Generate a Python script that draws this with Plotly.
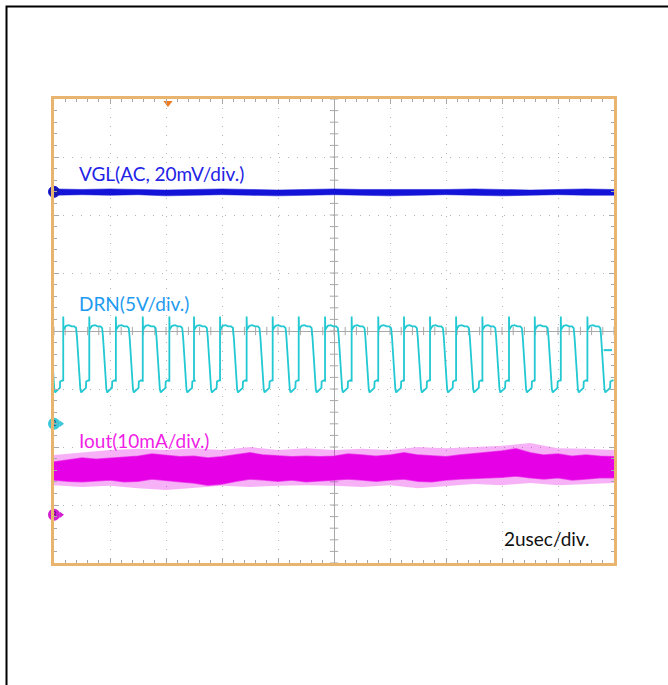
import numpy as np
import plotly.graph_objects as go

# ---------------- data ----------------
# x in microseconds (2 us/div, 10 div), y in screen divisions (8 div)
# VGL envelope (AC, 20mV/div), sampled every 1 us from -10 to 10
vgl_t = list(range(-10, 11))
vgl_upper = [2.45, 2.44, 2.45, 2.44, 2.43, 2.44, 2.45, 2.44, 2.43, 2.44, 2.45,
             2.44, 2.44, 2.43, 2.44, 2.45, 2.44, 2.43, 2.44, 2.45, 2.44]
vgl_lower = [2.34, 2.35, 2.34, 2.35, 2.33, 2.34, 2.35, 2.34, 2.33, 2.34, 2.35,
             2.34, 2.33, 2.34, 2.35, 2.34, 2.33, 2.34, 2.35, 2.34, 2.34]

# DRN (5V/div) rising edge times (us) and one-period pulse shape
drn_rise_times = [-10.60, -9.67, -8.74, -7.79, -6.83, -5.88, -5.00, -4.07, -3.12,
                  -2.19, -1.26, -0.32, 0.63, 1.58, 2.50, 3.43, 4.36, 5.30,
                  6.25, 7.17, 8.10, 9.05]
pulse_t = [0.00, 0.00, 0.01, 0.04, 0.10, 0.20, 0.30, 0.40, 0.46, 0.49, 0.53,
           0.57, 0.61, 0.64, 0.70, 0.78, 0.81, 0.82, 0.90, 0.93]
pulse_v = [-0.86, 0.25, 0.02, 0.05, 0.09, 0.10, 0.08, 0.08, 0.05, -0.10, -0.45,
           -0.80, -1.00, -1.06, -1.03, -1.00, -0.98, -0.87, -0.85, -0.86]

# Iout (10mA/div) dense band envelope, sampled every 0.5 us
iout_t = [-10 + 0.5 * i for i in range(41)]
iout_upper = [-2.26, -2.22, -2.19, -2.21, -2.19, -2.17, -2.16, -2.12, -2.14, -2.17,
              -2.16, -2.19, -2.17, -2.14, -2.10, -2.14, -2.16, -2.17, -2.16, -2.17,
              -2.16, -2.12, -2.14, -2.16, -2.14, -2.10, -2.14, -2.16, -2.17, -2.14,
              -2.12, -2.09, -2.07, -2.03, -2.10, -2.14, -2.12, -2.16, -2.14, -2.16, -2.17]
iout_lower = [-2.57, -2.59, -2.60, -2.59, -2.57, -2.60, -2.59, -2.55, -2.57, -2.60,
              -2.62, -2.66, -2.64, -2.59, -2.55, -2.57, -2.59, -2.57, -2.60, -2.59,
              -2.57, -2.55, -2.57, -2.59, -2.57, -2.55, -2.59, -2.60, -2.57, -2.55,
              -2.53, -2.53, -2.52, -2.50, -2.53, -2.55, -2.53, -2.57, -2.55, -2.53, -2.53]
# Iout noise peaks, sampled every 1 us
iout_peak_t = list(range(-10, 11))
iout_peak_upper = [-2.14, -2.09, -2.05, -2.03, -2.05, -2.02, -2.05, -2.00, -2.05, -2.02, -2.05,
                   -2.03, -2.05, -2.00, -2.02, -2.00, -1.98, -1.93, -2.02, -2.03, -2.05]
iout_peak_lower = [-2.66, -2.69, -2.67, -2.71, -2.74, -2.71, -2.67, -2.69, -2.67, -2.66, -2.67,
                   -2.69, -2.66, -2.71, -2.67, -2.64, -2.66, -2.62, -2.66, -2.64, -2.62]

# channel reference markers (left edge) and trigger position
ch_marker_levels = {"VGL": 2.40, "DRN": -1.60, "Iout": -3.17}
trigger_time = -5.93

labels = {
    "VGL": "VGL(AC, 20mV/div.)",
    "DRN": "DRN(5V/div.)",
    "Iout": "Iout(10mA/div.)",
    "time": "2usec/div.",
}

# ---------------- styling ----------------
C_VGL = "#1414D8"
C_VGL_TXT = "#2323E6"
C_DRN = "#22C8D2"
C_DRN_TXT = "#1E9BF0"
C_IOUT = "#E600E6"
C_IOUT_TXT = "#F01EE6"
C_FRAME = "#E8B46E"
C_GRID = "#B4B4B4"
C_TICK = "#A8A8A8"
FONT = "Lato, Noto Sans, DejaVu Sans, sans-serif"

fig = go.Figure()

# graticule ticks on center lines
fig.add_trace(go.Scatter(
    x=np.round(np.arange(-10, 10.001, 0.4), 3), y=[0] * 51, mode="markers",
    marker=dict(symbol="line-ns-open", size=6, color=C_TICK, line=dict(color=C_TICK, width=1)),
    hoverinfo="skip"))
fig.add_trace(go.Scatter(
    x=[0] * 41, y=np.round(np.arange(-4, 4.001, 0.2), 3), mode="markers",
    marker=dict(symbol="line-ew-open", size=6, color=C_TICK, line=dict(color=C_TICK, width=1)),
    hoverinfo="skip"))

# VGL band
fig.add_trace(go.Scatter(
    x=vgl_t + vgl_t[::-1], y=vgl_upper + vgl_lower[::-1], fill="toself",
    fillcolor=C_VGL, line=dict(color="rgba(20,20,216,0.5)", width=1), mode="lines",
    hoverinfo="skip"))

# DRN waveform
drn_x, drn_y = [], []
for r in drn_rise_times:
    drn_x += [r + t for t in pulse_t]
    drn_y += pulse_v
fig.add_trace(go.Scatter(x=drn_x, y=drn_y, mode="lines",
                         line=dict(color=C_DRN, width=1.8), hoverinfo="skip"))

# Iout band (peaks lighter, dense core solid)
fig.add_trace(go.Scatter(
    x=iout_peak_t + iout_peak_t[::-1], y=iout_peak_upper + iout_peak_lower[::-1],
    fill="toself", fillcolor="rgba(230,0,230,0.30)", line=dict(width=0),
    mode="lines", hoverinfo="skip"))
fig.add_trace(go.Scatter(
    x=iout_t + iout_t[::-1], y=iout_upper + iout_lower[::-1], fill="toself",
    fillcolor=C_IOUT, line=dict(color="rgba(230,0,230,0.6)", width=1.5), mode="lines",
    hoverinfo="skip"))

# channel markers on left edge
fig.add_trace(go.Scatter(
    x=[-10], y=[ch_marker_levels["VGL"]], mode="markers",
    marker=dict(symbol="circle", size=11, color="#1A1AB0", line=dict(color=C_VGL, width=1)),
    cliponaxis=False, hoverinfo="skip"))
for key, num, col in (("DRN", "2", "#3CC8D8"), ("Iout", "3", "#D21ED2")):
    lvl = ch_marker_levels[key]
    fig.add_trace(go.Scatter(
        x=[-9.75], y=[lvl], mode="markers",
        marker=dict(symbol="triangle-right", size=6, color=col),
        cliponaxis=False, hoverinfo="skip"))
    fig.add_trace(go.Scatter(
        x=[-10], y=[lvl], mode="markers+text", text=[num],
        textfont=dict(size=8, color="#204050" if key == "DRN" else "#500050", family=FONT),
        textposition="middle center",
        marker=dict(symbol="circle", size=12, color=col),
        cliponaxis=False, hoverinfo="skip"))

# DRN trigger level marker at right
fig.add_trace(go.Scatter(
    x=[9.78], y=[-0.33], mode="markers",
    marker=dict(symbol="line-ew-open", size=6, color=C_DRN, line=dict(color=C_DRN, width=2)),
    hoverinfo="skip"))

# trigger position marker at top
fig.add_trace(go.Scatter(
    x=[trigger_time], y=[3.93], mode="markers",
    marker=dict(symbol="triangle-down", size=8, color="#F07A1E"),
    cliponaxis=False, hoverinfo="skip"))

# labels
def ann(text, x, y, color, size=19):
    fig.add_annotation(x=x, y=y, xref="x", yref="y", text=text, showarrow=False,
                       xanchor="left", yanchor="middle",
                       font=dict(family=FONT, size=size, color=color))

ann(labels["VGL"], -9.18, 2.71, C_VGL_TXT)
ann(labels["DRN"], -9.18, 0.48, C_DRN_TXT)
ann(labels["Iout"], -9.18, -1.88, C_IOUT_TXT)
ann(labels["time"], 6.0, -3.57, "#111111")

# outer slide frame (open to the right and bottom, as in the original slide)
fig.add_shape(type="rect", xref="paper", yref="paper",
              x0=(6.5 - 54) / 560, x1=1.3, y0=-0.5, y1=(563 - 6.5) / 464,
              line=dict(color="black", width=2), fillcolor="rgba(0,0,0,0)")

axis_common = dict(
    showgrid=True, gridcolor=C_GRID, gridwidth=1, griddash="1px,8px",
    zeroline=True, zerolinecolor=C_TICK, zerolinewidth=1,
    showline=True, linecolor=C_FRAME, linewidth=3, mirror="ticks",
    ticks="inside", ticklen=5, tickcolor=C_TICK, tickwidth=1,
    showticklabels=False, fixedrange=True,
)
fig.update_layout(
    width=668, height=685,
    margin=dict(l=54, r=54, t=99, b=122),
    paper_bgcolor="white", plot_bgcolor="white",
    showlegend=False,
    hovermode=False,
    xaxis=dict(range=[-10, 10], dtick=2, tick0=0,
               minor=dict(ticks="inside", ticklen=3, dtick=0.4, tick0=0,
                          tickcolor=C_TICK, showgrid=False),
               **axis_common),
    yaxis=dict(range=[-4, 4], dtick=1, tick0=0,
               minor=dict(ticks="inside", ticklen=3, dtick=0.2, tick0=0,
                          tickcolor=C_TICK, showgrid=False),
               **axis_common),
)

fig.write_html("out.html", config={"displayModeBar": False},
               post_script="document.body.style.margin='0';document.body.style.overflow='hidden';")
